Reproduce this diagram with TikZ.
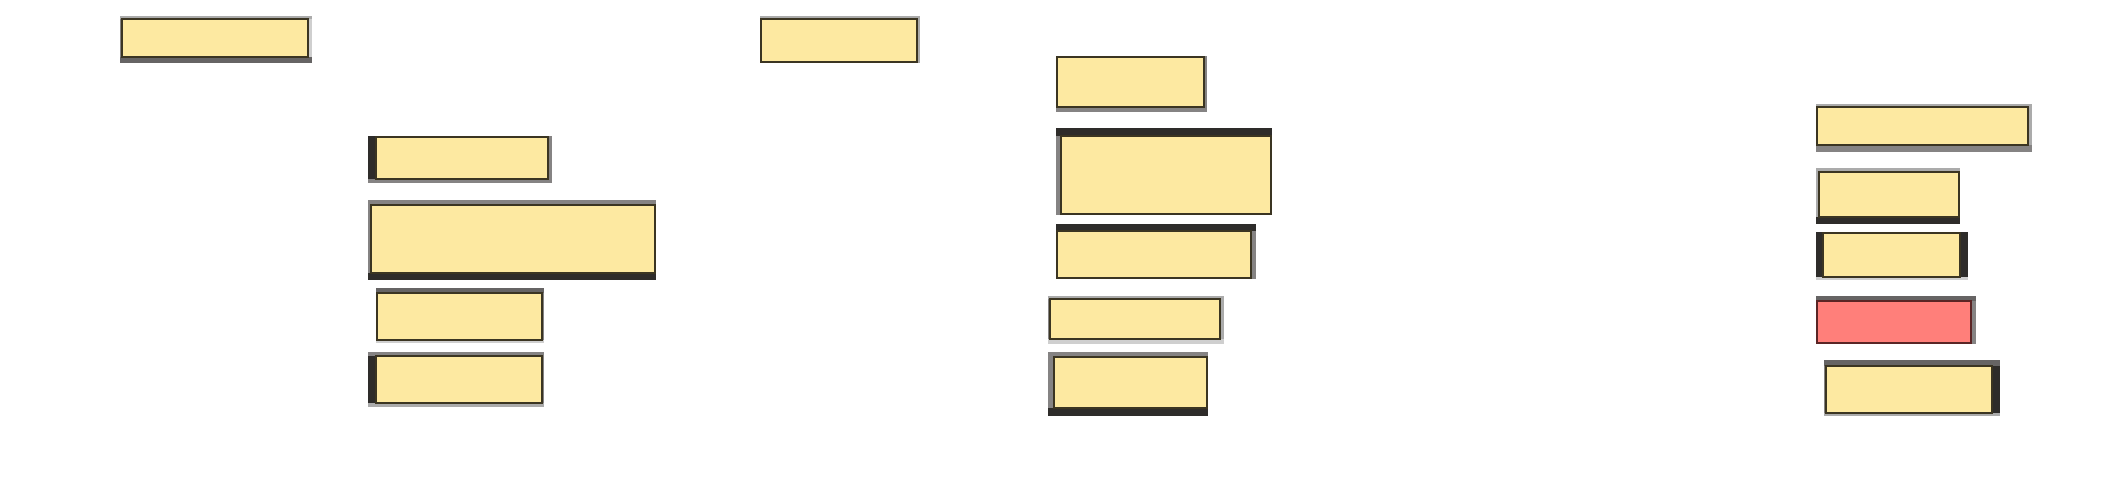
\documentclass[tikz,border=0pt]{standalone}
\usepackage{tikz}
\definecolor{yb}{HTML}{FDE9A1}
\definecolor{rb}{HTML}{FF7F7A}
\definecolor{edge}{HTML}{3B3522}
\definecolor{redge}{HTML}{5A2525}
\definecolor{dk}{HTML}{2E2C2A}
\definecolor{dg}{HTML}{666464}
\definecolor{mg}{HTML}{858383}
\definecolor{lg}{HTML}{ABABAB}
\definecolor{vlg}{HTML}{CFCFCF}
\tikzset{
  ybox/.style={fill=yb,draw=edge,line width=0.9pt},
  rbox/.style={fill=rb,draw=redge,line width=0.9pt},
  nn/.style={fill=none},
}
\newcommand\bx[9]{%
  \coordinate (o1) at (#1); \coordinate (o2) at (#2);
  \coordinate (i1) at (#3); \coordinate (i2) at (#4);
  \fill[#5] (o1) rectangle (i1 |- o2);
  \fill[#7] (i2 |- o1) rectangle (o2);
  \fill[#6] (o1) rectangle (o2 |- i1);
  \fill[#8] (o1 |- i2) rectangle (o2);
}
\begin{document}
\begin{tikzpicture}[x=0.5pt,y=-0.5pt]
\useasboundingbox (0,0) rectangle (2118,488);
% top-left
\bx{120,16}{312,63}{122,19}{308,57}{mg}{lg}{vlg}{dg}{}
\draw[ybox] (122,19) rectangle (308,57);
% top middle
\bx{760,16}{920,63}{761,19}{917,62}{nn}{lg}{lg}{nn}{}
\draw[ybox] (761,19) rectangle (917,62);
% left column
\bx{368,136}{552,183}{376,137}{548,179}{dk}{nn}{mg}{mg}{}
\draw[ybox] (376,137) rectangle (548,179);
\bx{368,200}{656,280}{371,205}{655,273}{mg}{mg}{nn}{dk}{}
\draw[ybox] (371,205) rectangle (655,273);
\bx{376,288}{544,343}{377,293}{542,340}{nn}{dg}{mg}{vlg}{}
\draw[ybox] (377,293) rectangle (542,340);
\bx{368,352}{544,407}{376,356}{542,403}{dk}{mg}{mg}{lg}{}
\draw[ybox] (376,356) rectangle (542,403);
% middle column
\bx{1056,56}{1207,112}{1057,57}{1204,107}{nn}{nn}{mg}{mg}{}
\draw[ybox] (1057,57) rectangle (1204,107);
\bx{1056,128}{1272,215}{1061,136}{1271,214}{mg}{dk}{nn}{nn}{}
\draw[ybox] (1061,136) rectangle (1271,214);
\bx{1056,224}{1256,279}{1057,231}{1251,278}{nn}{dk}{mg}{nn}{}
\draw[ybox] (1057,231) rectangle (1251,278);
\bx{1048,296}{1224,344}{1050,299}{1220,339}{mg}{lg}{lg}{vlg}{}
\draw[ybox] (1050,299) rectangle (1220,339);
\bx{1048,352}{1208,416}{1054,357}{1207,408}{mg}{mg}{nn}{dk}{}
\draw[ybox] (1054,357) rectangle (1207,408);
% right column
\bx{1816,104}{2032,152}{1817,107}{2028,145}{nn}{lg}{lg}{mg}{}
\draw[ybox] (1817,107) rectangle (2028,145);
\bx{1816,168}{1960,224}{1819,172}{1959,217}{lg}{lg}{nn}{dk}{}
\draw[ybox] (1819,172) rectangle (1959,217);
\bx{1816,232}{1968,280}{1823,233}{1960,277}{dk}{nn}{dk}{vlg}{}
\draw[ybox] (1823,233) rectangle (1960,277);
\bx{1816,296}{1976,344}{1817,301}{1971,343}{nn}{dg}{mg}{nn}{}
\draw[rbox] (1817,301) rectangle (1971,343);
\bx{1824,360}{2000,416}{1826,366}{1992,413}{mg}{dg}{dk}{lg}{}
\draw[ybox] (1826,366) rectangle (1992,413);
\end{tikzpicture}
\end{document}
